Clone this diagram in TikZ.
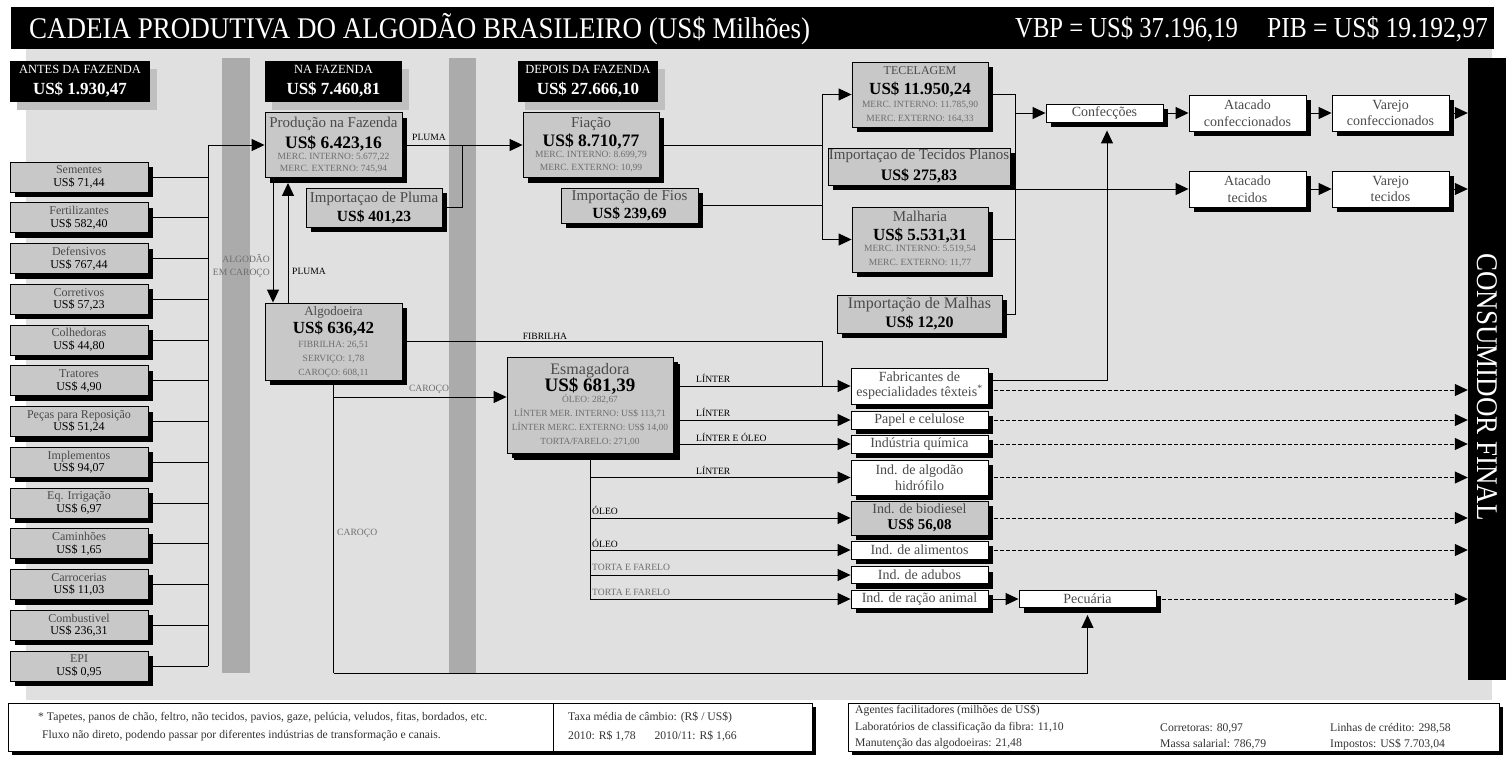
\documentclass[tikz,border=0pt]{standalone}
\usepackage{fontspec}
\usepackage{graphicx}
\setmainfont{Liberation Serif}
\usetikzlibrary{arrows.meta,shadows}
\definecolor{bgc}{HTML}{E0E0E0}
\definecolor{barc}{HTML}{ABABAB}
\definecolor{boxc}{HTML}{C8C8C8}
\definecolor{hsh}{HTML}{C0C0C0}
\definecolor{tgr}{HTML}{4A4A4A}
\definecolor{tlt}{HTML}{6E6E6E}
\definecolor{ntx}{HTML}{333333}
\newcommand\fs[2]{\fontsize{#1}{#2}\selectfont}
\newcommand\boxtitle[2]{{\color{tgr}\fontsize{#1}{#1}\selectfont #2}}
\newcommand\boxval[2]{{\fontsize{#1}{#1}\selectfont\bfseries #2}}
\newcommand\boxnum[2]{{\fontsize{#1}{#1}\selectfont #2}}
\newcommand\boxsmall[2]{{\color{tlt}\fontsize{#1}{#1}\selectfont #2}}
\newcommand\narrowtext[2]{\scalebox{#1}[1]{#2}}
\AtBeginDocument{\lineskiplimit=-100pt\relax\lineskip=0pt\relax}
\tikzset{
  ln/.style={line width=1pt, draw=black},
  arr/.style={ln, -{Triangle[length=13pt,width=12pt]}},
  darr/.style={arr, dash pattern=on 4pt off 2pt},
  bshadow/.style={drop shadow={fill=black, opacity=1, shadow xshift=#1, shadow yshift=-#1}},
  gbox/.style={draw=black, line width=0.9pt, fill=boxc, inner sep=0pt, align=center, bshadow=5pt},
  wbox/.style={gbox, fill=white, text=tgr},
  bs/.style={font=\fs{10}{#1}},
  hbox/.style={fill=black, text=white, inner sep=0pt, align=center, bs=12, drop shadow={fill=hsh, opacity=1, shadow xshift=7pt, shadow yshift=-8pt}},
  lab/.style={inner sep=0pt, font=\fs{9.6}{11}},
  glab/.style={lab, text=tlt},
  note/.style={inner sep=0pt, anchor=west, text=ntx, font=\fs{11.7}{13}},
  bigtxt/.style={text=white, inner sep=0pt, font=\fs{30}{32}},
}
\begin{document}
\begin{tikzpicture}[x=1pt,y=-1pt]
\useasboundingbox (0,0) rectangle (1506,761);
\fill[white] (0,0) rectangle (1506,761);
% background
\fill[bgc] (26,49) rectangle (1492,700);
% title band
\node[fill=black, minimum width=1483pt, minimum height=42pt, inner sep=0pt, anchor=north west] (band) at (11,7) {};
\node[bigtxt, anchor=west] (title) at (29,29) {\narrowtext{0.9}{CADEIA PRODUTIVA DO ALGODÃO BRASILEIRO (US\$ Milhões)}};
\node[bigtxt, anchor=west, font=\fs{29}{31}] (vbp) at (1015,29) {\narrowtext{0.85}{VBP = US\$ 37.196,19}};
\node[bigtxt, anchor=east, font=\fs{29}{31}] (pib) at (1488,29) {\narrowtext{0.88}{PIB = US\$ 19.192,97}};
\fill[barc] (222,58) rectangle (250,673);
\fill[barc] (449,58) rectangle (476,673);
% consumidor final
\node[fill=black, inner sep=0pt, minimum width=38pt, minimum height=622pt] (cons) at (1487,369) {};
\node[bigtxt, rotate=-90] (consTxt) at (1487,387) {\narrowtext{0.9}{CONSUMIDOR FINAL}};
% headers
\node[hbox, minimum width=140pt, minimum height=41pt] (hAntes) at (80,81.5) {{\fs{12.5}{12.5}ANTES DA FAZENDA}\\[9pt]{\fs{17}{17}\bfseries US\$ 1.930,47}};
\node[hbox, minimum width=137pt, minimum height=41pt] (hNa) at (333.5,81.5) {{\fs{12.5}{12.5}NA FAZENDA}\\[9pt]{\fs{17}{17}\bfseries US\$ 7.460,81}};
\node[hbox, minimum width=140pt, minimum height=41pt] (hDep) at (588,81.5) {{\fs{12.5}{12.5}DEPOIS DA FAZENDA}\\[9pt]{\fs{17}{17}\bfseries US\$ 27.666,10}};
% inputs
\foreach \i/\nm/\val in {1/Sementes/{71,44}, 2/Fertilizantes/{582,40}, 3/Defensivos/{767,44}, 4/Corretivos/{57,23}, 5/Colhedoras/{44,80}, 6/Tratores/{4,90}, 7/Peças para Reposição/{51,24}, 8/Implementos/{94,07}, 9/Eq. Irrigação/{6,97}, 10/Caminhões/{1,65}, 11/Carrocerias/{11,03}, 12/Combustivel/{236,31}, 13/EPI/{0,95}}{
  \node[gbox, bs=12.5, minimum width=138pt, minimum height=30pt] (in\i) at (79,{177+40.75*(\i-1)}) {\boxtitle{12}{\nm}\\\boxnum{12}{US\$ \val}};
}
% farm
\node[gbox, bs=12, minimum width=137pt, minimum height=65pt] (prod) at (333.5,145) {\boxtitle{15}{Produção na Fazenda}\\[9pt]\boxval{17.5}{US\$ 6.423,16}\\[-1pt]\boxsmall{9.5}{MERC. INTERNO: 5.677,22}\\\boxsmall{9.5}{MERC. EXTERNO: 745,94}};
\node[gbox, bs=12.5, minimum width=136pt, minimum height=39pt] (impPluma) at (374,207.5) {\boxtitle{15}{Importaçao de Pluma}\\[6.5pt]\boxval{15.5}{US\$ 401,23}};
\node[gbox, bs=14, minimum width=137pt, minimum height=77pt] (algod) at (333.5,341.5) {\boxtitle{13}{Algodoeira}\\[4pt]\boxval{17}{US\$ 636,42}\\\boxsmall{9.5}{FIBRILHA: 26,51}\\\boxsmall{9.5}{SERVIÇO: 1,78}\\\boxsmall{9.5}{CAROÇO: 608,11}};
% after farm
\node[gbox, bs=12, minimum width=136pt, minimum height=65pt] (fia) at (591,145) {\boxtitle{15}{Fiação}\\[7pt]\boxval{17.5}{US\$ 8.710,77}\\[-1pt]\boxsmall{9.5}{MERC. INTERNO: 8.699,79}\\[1pt]\boxsmall{9.5}{MERC. EXTERNO: 10,99}};
\node[gbox, bs=12.5, minimum width=137pt, minimum height=35pt] (impFios) at (629.5,205.5) {\boxtitle{15}{Importação de Fios}\\[5.5pt]\boxval{15.5}{US\$ 239,69}};
\node[gbox, bs=12.5, minimum width=136pt, minimum height=65pt] (tec) at (920,94.5) {\boxtitle{12}{TECELAGEM}\\[7.5pt]\boxval{17}{US\$ 11.950,24}\\[0.5pt]\boxsmall{9.5}{MERC. INTERNO: 11.785,90}\\[1.5pt]\boxsmall{9.5}{MERC. EXTERNO: 164,33}};
\node[gbox, bs=12.5, minimum width=182pt, minimum height=37pt] (impTec) at (919,166.5) {\boxtitle{15}{Importaçao de Tecidos Planos}\\[8.5pt]\boxval{16}{US\$ 275,83}};
\node[gbox, bs=12.5, minimum width=136pt, minimum height=65pt] (mal) at (920,239.5) {\boxtitle{15}{Malharia}\\[6.5pt]\boxval{17}{US\$ 5.531,31}\\[-1.5pt]\boxsmall{9.5}{MERC. INTERNO: 5.519,54}\\[1.5pt]\boxsmall{9.5}{MERC. EXTERNO: 11,77}};
\node[gbox, bs=12.5, minimum width=165pt, minimum height=38pt] (impMal) at (919.5,314) {\boxtitle{16}{Importação de Malhas}\\[6.5pt]\boxval{16}{US\$ 12,20}};
\node[gbox, bs=14, minimum width=166pt, minimum height=96pt, bshadow=7pt] (esm) at (590,405) {\boxtitle{16}{Esmagadora}\\[3pt]\boxval{19}{US\$ 681,39}\\[-3pt]\boxsmall{9.4}{ÓLEO: 282,67}\\\boxsmall{9.4}{LÍNTER MER. INTERNO: US\$ 113,71}\\\boxsmall{9.4}{LÍNTER MERC. EXTERNO: US\$ 14,00}\\\boxsmall{9.4}{TORTA/FARELO: 271,00}};
% textile chain
\node[wbox, font=\fs{14}{14}, minimum width=117pt, minimum height=18pt] (conf) at (1104.5,113) {Confecções};
\node[wbox, bs=16.5, minimum width=117pt, minimum height=36pt] (atacConf) at (1247.5,113) {\boxnum{14}{Atacado}\\\boxnum{14}{confeccionados}};
\node[wbox, bs=16.5, minimum width=117pt, minimum height=36pt] (varConf) at (1390.5,113) {\boxnum{14}{Varejo}\\\boxnum{14}{confeccionados}};
\node[wbox, bs=16.5, minimum width=117pt, minimum height=36pt] (atacTec) at (1247.5,189) {\boxnum{14}{Atacado}\\\boxnum{14}{tecidos}};
\node[wbox, bs=16.5, minimum width=117pt, minimum height=36pt] (varTec) at (1390.5,189) {\boxnum{14}{Varejo}\\\boxnum{14}{tecidos}};
% industries
\node[wbox, bs=15, minimum width=137pt, minimum height=36pt] (fab) at (919.5,386) {\boxnum{14}{Fabricantes de}\\\boxnum{14}{especialidades têxteis\textsuperscript{*}}};
\node[wbox, font=\fs{14}{14}, minimum width=137pt, minimum height=18pt] (papel) at (919.5,420) {Papel e celulose};
\node[wbox, font=\fs{14}{14}, minimum width=137pt, minimum height=18pt] (quim) at (919.5,444) {Indústria química};
\node[wbox, bs=16, minimum width=137pt, minimum height=35pt] (hidro) at (919.5,477.5) {\boxnum{14}{Ind. de algodão}\\\boxnum{14}{hidrófilo}};
\node[gbox, bs=16.5, minimum width=137pt, minimum height=34pt] (bio) at (919.5,518) {\boxtitle{14}{Ind. de biodiesel}\\\boxval{15}{US\$ 56,08}};
\node[wbox, font=\fs{14}{14}, minimum width=137pt, minimum height=18pt] (alim) at (919.5,550) {Ind. de alimentos};
\node[wbox, font=\fs{14}{14}, minimum width=137pt, minimum height=17pt] (adub) at (919.5,575) {Ind. de adubos};
\node[wbox, font=\fs{14}{14}, minimum width=137pt, minimum height=18pt] (racao) at (919.5,599) {Ind. de ração animal};
\node[wbox, font=\fs{14}{14}, minimum width=137pt, minimum height=17pt] (pec) at (1087.5,599) {Pecuária};
% coordinates
\coordinate (busTop) at (208,145);
\coordinate (busBot) at (208,666);
\coordinate (plumaJ) at (462,145);
\coordinate (fiaJ) at (822,145);
\coordinate (tecJ) at (1015,94.5);
\coordinate (fibJ) at (822,386);
\coordinate (carB) at (333.5,673);
\coordinate (esmIn) at ([yshift=8pt]esm.west);
% input bus
\draw[ln] (busTop) -- (busBot);
\foreach \i in {1,...,13}{ \draw[ln] (in\i.east) -- (in\i.east -| busTop); }
\draw[arr] (busTop) -- (busTop -| prod.west);
% pluma
\draw[arr] (prod.east) -- (fia.west);
\draw[ln] (impPluma.east) -| (plumaJ);
\node[lab] (lPluma1) at (429,137) {PLUMA};
\draw[arr] ([xshift=-60.5pt]prod.south) -- ([xshift=-60.5pt]algod.north);
\draw[arr] ([xshift=-45.5pt]algod.north) -- ([xshift=-45.5pt,yshift=-5pt]prod.south);
\node[glab, align=right, anchor=east, font=\fs{9.6}{13.5}] (lAlg) at (270,266) {ALGODÃO\\EM CAROÇO};
\node[lab, anchor=west] (lPluma2) at (292,271) {PLUMA};
% spinning to weaving/knitting
\draw[ln] (fia.east) -- (fiaJ);
\draw[ln] (impFios.east) -- (impFios.east -| fiaJ);
\draw[arr] (fiaJ) |- (tec.west);
\draw[arr] (fiaJ) |- (mal.west);
\draw[ln] (tec.east) -- (tecJ) -- (tecJ |- impMal.east) -- (impMal.east);
\draw[ln] (impTec.east) -- (impTec.east -| tecJ);
\draw[ln] (mal.east) -- (mal.east -| tecJ);
\draw[arr] (tecJ |- conf.west) -- (conf.west);
\draw[arr] (tecJ |- atacTec.west) -- (atacTec.west);
\draw[arr] (conf.east) -- (atacConf.west);
\draw[arr] (atacConf.east) -- (varConf.west);
\draw[arr] (varConf.east) -- (varConf.east -| cons.west);
\draw[arr] (atacTec.east) -- (varTec.west);
\draw[arr] (varTec.east) -- (varTec.east -| cons.west);
% algodoeira outputs
\draw[ln] (algod.east) -| (fibJ);
\node[lab] (lFib) at (545,336) {FIBRILHA};
\draw[arr] (algod.south |- esmIn) -- (esmIn);
\node[glab] (lCar1) at (429,389) {CAROÇO};
\draw[ln] (algod.south) -- (carB);
\draw[arr] (carB) -| ([yshift=-7pt]pec.south);
\node[glab, anchor=west] (lCar2) at (337,533) {CAROÇO};
% esmagadora outputs
\draw[arr] (esm.east |- fab.west) -- (fab.west);
\draw[arr] (esm.east |- papel.west) -- (papel.west);
\draw[arr] (esm.east |- quim.west) -- (quim.west);
\node[lab, anchor=west] (lL1) at (696,378) {LÍNTER};
\node[lab, anchor=west] (lL2) at (696,412) {LÍNTER};
\node[lab, anchor=west] (lL3) at (696,437) {LÍNTER E ÓLEO};
\draw[ln] (esm.south) -- (esm.south |- racao.west);
\foreach \n in {hidro,bio,alim,adub,racao}{ \draw[arr] (esm.south |- \n.west) -- (\n.west); }
\node[lab, anchor=west] (lL4) at (696,470) {LÍNTER};
\node[lab, anchor=west] (lO1) at (592,510) {ÓLEO};
\node[lab, anchor=west] (lO2) at (592,543) {ÓLEO};
\node[glab, anchor=west] (lT1) at (592,567) {TORTA E FARELO};
\node[glab, anchor=west] (lT2) at (592,592) {TORTA E FARELO};
% to consumer
\draw[darr] ([yshift=-4pt]fab.east) -- ([yshift=-4pt]fab.east -| cons.west);
\foreach \n in {papel,quim,hidro,bio,alim}{ \draw[darr] (\n.east) -- (\n.east -| cons.west); }
\draw[arr] ([yshift=6pt]fab.east) -| ([xshift=2.5pt,yshift=-8pt]conf.south);
\draw[arr] (racao.east) -- (pec.west);
\draw[darr] (pec.east) -- (pec.east -| cons.west);
% notes
\node[draw=black, line width=0.9pt, fill=white, inner sep=0pt, minimum width=804pt, minimum height=48pt, bshadow=4pt] (notes) at (410,727) {};
\draw[line width=0.9pt] ([xshift=143pt]notes.north) -- ([xshift=143pt]notes.south);
\node[note] (n1) at (38,718) {* Tapetes, panos de chão, feltro, não tecidos, pavios, gaze, pelúcia, veludos, fitas, bordados, etc.};
\node[note] (n2) at (42,736) {Fluxo não direto, podendo passar por diferentes indústrias de transformação e canais.};
\node[note] (n3) at (568,717) {Taxa média de câmbio: (R\$ / US\$)};
\node[note] (n4) at (568,736) {2010: R\$ 1,78\hspace{1.6em}2010/11: R\$ 1,66};
\node[draw=black, line width=0.9pt, fill=white, inner sep=0pt, minimum width=651pt, minimum height=48pt, bshadow=4pt] (agents) at (1173.5,727) {};
\node[note] (a0) at (855,711) {Agentes facilitadores (milhões de US\$)};
\node[note] (a1) at (855,728) {Laboratórios de classificação da fibra: 11,10};
\node[note] (a2) at (855,744) {Manutenção das algodoeiras: 21,48};
\node[note] (a3) at (1160,728) {Corretoras: 80,97};
\node[note] (a4) at (1160,744) {Massa salarial: 786,79};
\node[note] (a5) at (1330,728) {Linhas de crédito: 298,58};
\node[note] (a6) at (1330,744) {Impostos: US\$ 7.703,04};
\end{tikzpicture}
\end{document}
